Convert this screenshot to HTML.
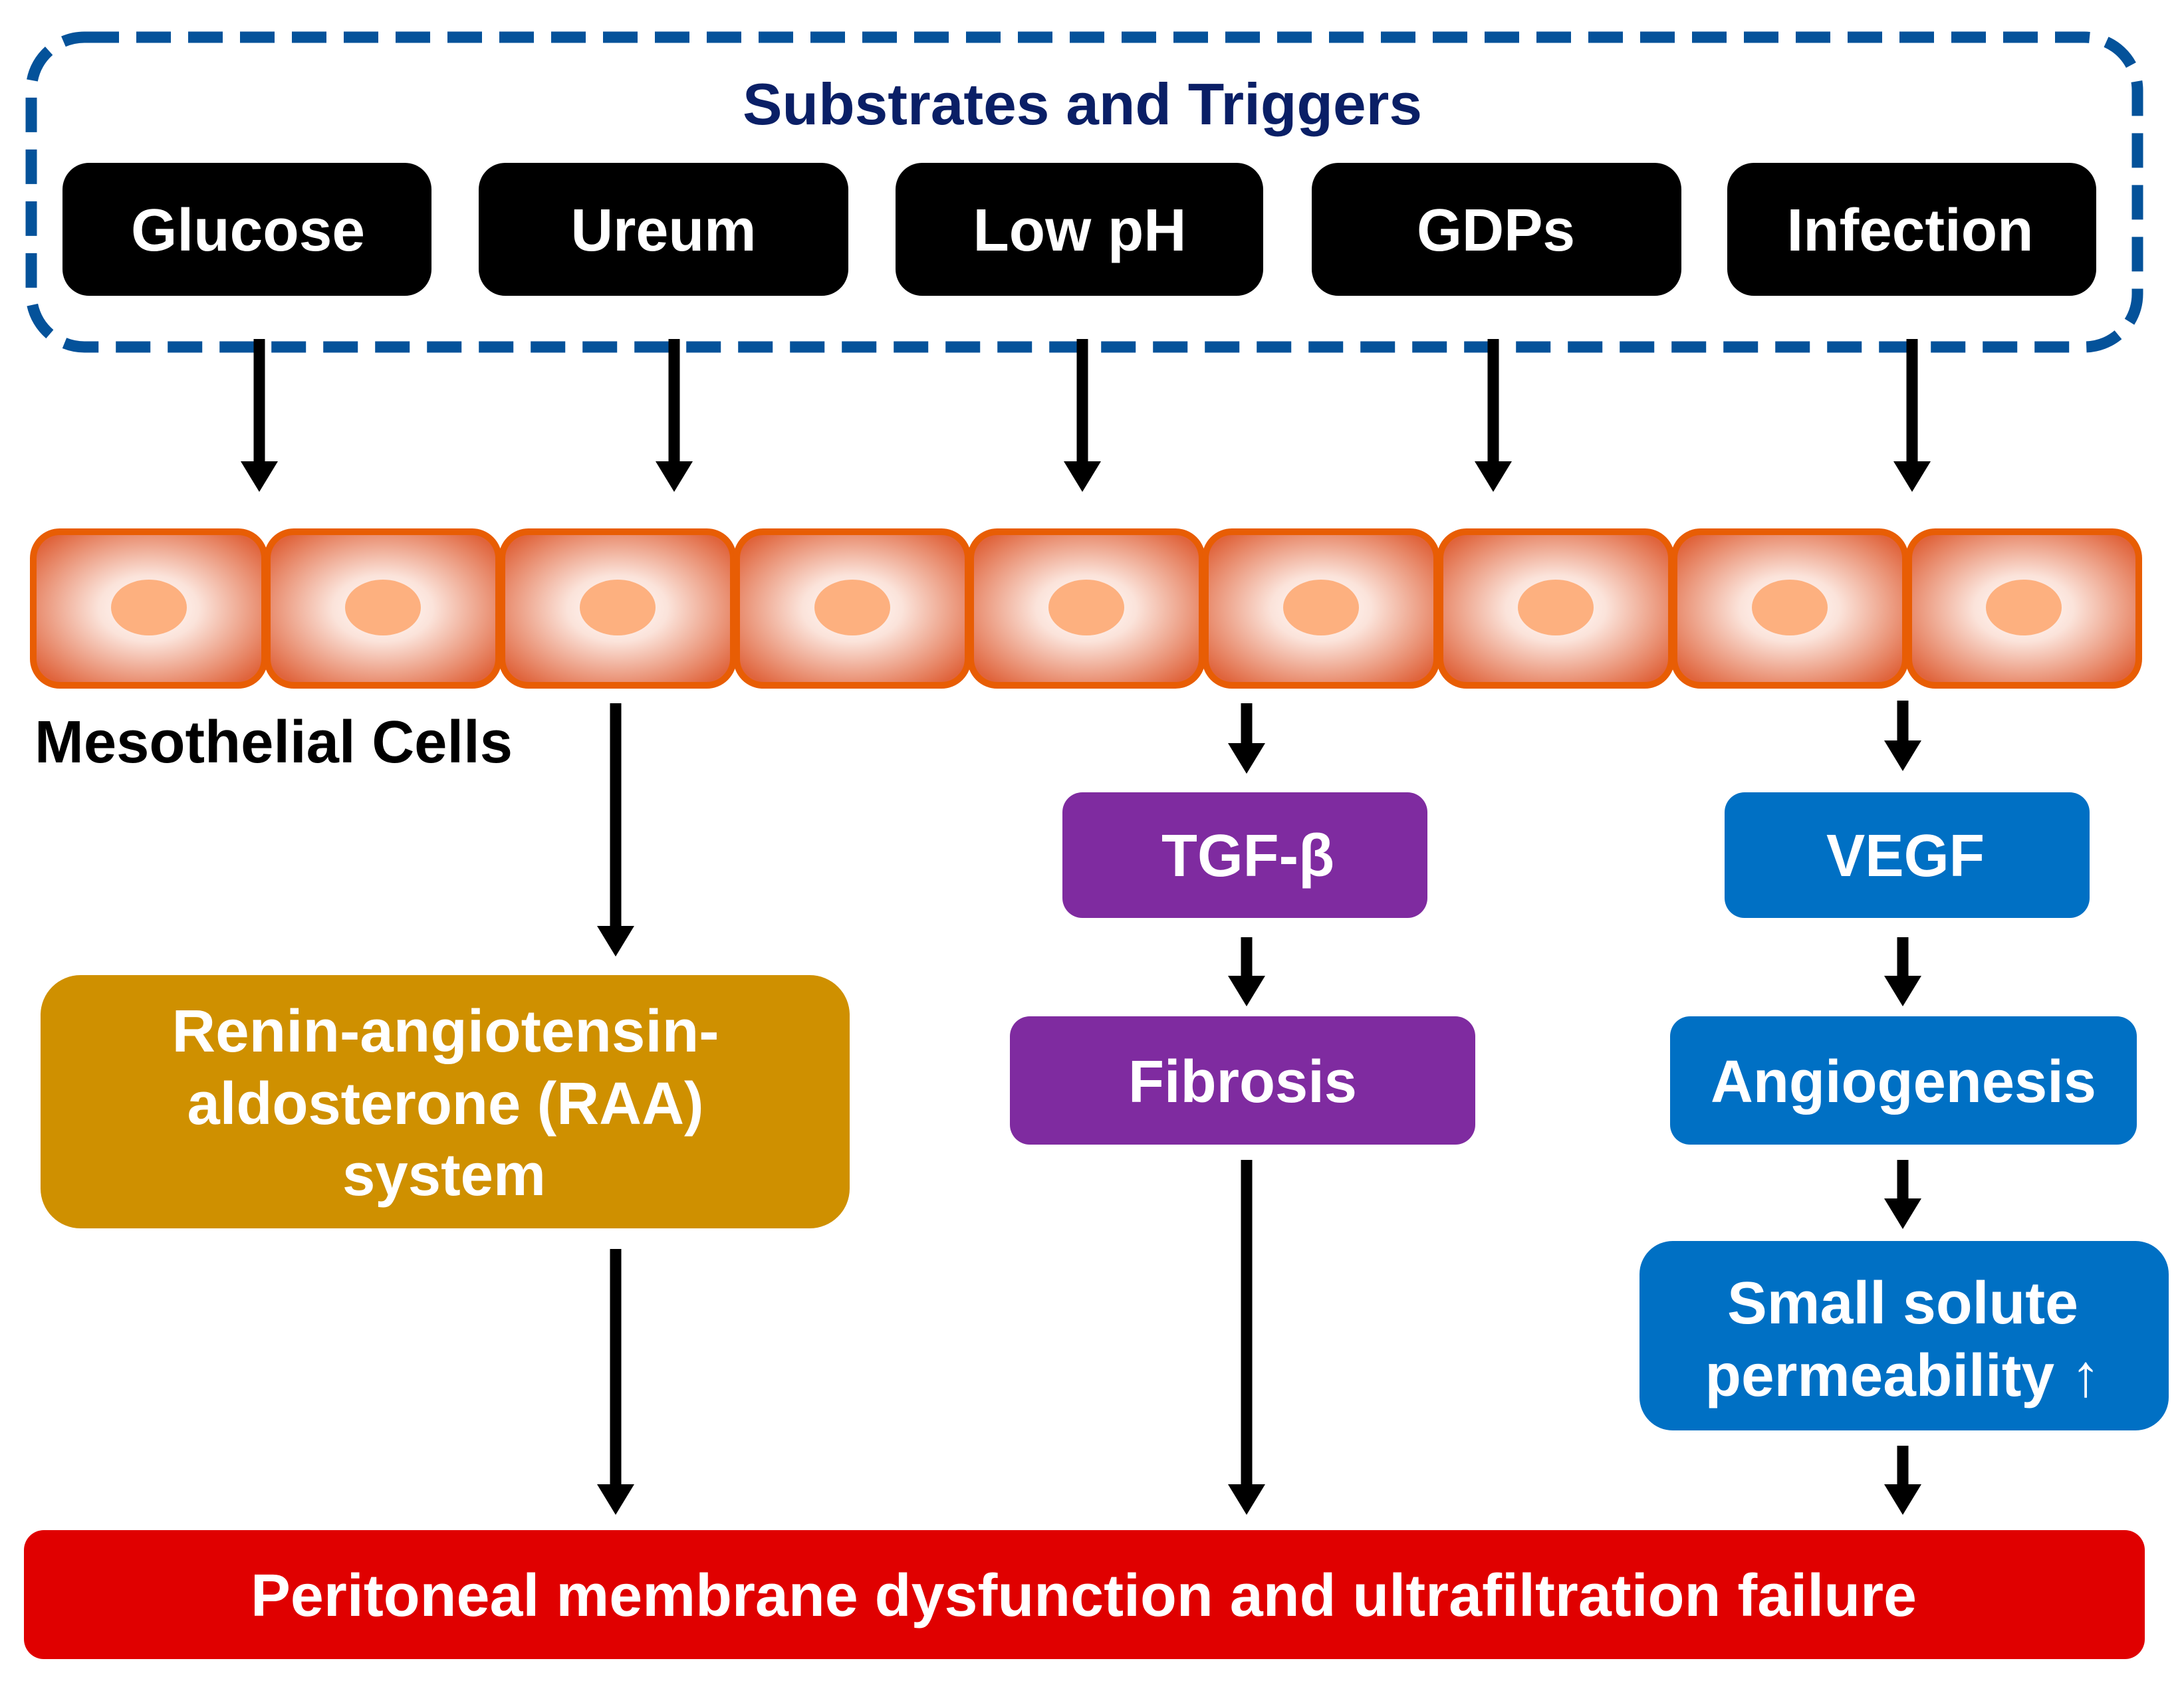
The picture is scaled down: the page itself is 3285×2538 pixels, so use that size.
<!DOCTYPE html>
<html><head><meta charset="utf-8"><style>html,body{margin:0;padding:0;background:#fff}svg{display:block}</style></head>
<body>
<svg width="3285" height="2538" viewBox="0 0 3285 2538" xmlns="http://www.w3.org/2000/svg" font-family="Liberation Sans, Arial, sans-serif" font-weight="bold">
<defs>
<radialGradient id="cg" cx="50%" cy="50%" r="62%">
<stop offset="0" stop-color="#ffffff"/>
<stop offset="0.35" stop-color="#fbe3da"/>
<stop offset="1" stop-color="#e0643c"/>
</radialGradient>
</defs>
<rect width="3285" height="2538" fill="#fff"/>
<rect x="47" y="56" width="3168" height="466" rx="80" fill="none" stroke="#04529a" stroke-width="17" stroke-dasharray="52 26"/>
<text x="1628" y="187" text-anchor="middle" font-size="88" fill="#0a1f66" textLength="1022" lengthAdjust="spacingAndGlyphs">Substrates and Triggers</text>
<g fill="#000">
<rect x="94" y="245" width="555" height="200" rx="40"/>
<rect x="720" y="245" width="556" height="200" rx="40"/>
<rect x="1347" y="245" width="553" height="200" rx="40"/>
<rect x="1973" y="245" width="556" height="200" rx="40"/>
<rect x="2598" y="245" width="555" height="200" rx="40"/>
</g>
<g fill="#fff" font-size="90" text-anchor="middle">
<text x="373" y="377" textLength="352" lengthAdjust="spacingAndGlyphs">Glucose</text>
<text x="998" y="377" textLength="279" lengthAdjust="spacingAndGlyphs">Ureum</text>
<text x="1624" y="377" textLength="321" lengthAdjust="spacingAndGlyphs">Low pH</text>
<text x="2250" y="377" textLength="238" lengthAdjust="spacingAndGlyphs">GDPs</text>
<text x="2873" y="377" textLength="371" lengthAdjust="spacingAndGlyphs">Infection</text>
</g>
<g stroke="#000" stroke-width="17">
<line x1="390" y1="510" x2="390" y2="700"/>
<line x1="1014" y1="510" x2="1014" y2="700"/>
<line x1="1628" y1="510" x2="1628" y2="700"/>
<line x1="2246" y1="510" x2="2246" y2="700"/>
<line x1="2876" y1="510" x2="2876" y2="700"/>
<line x1="926" y1="1058" x2="926" y2="1400"/>
<line x1="1875" y1="1058" x2="1875" y2="1125"/>
<line x1="2862" y1="1054" x2="2862" y2="1120"/>
<line x1="1875" y1="1410" x2="1875" y2="1475"/>
<line x1="2862" y1="1410" x2="2862" y2="1475"/>
<line x1="2862" y1="1745" x2="2862" y2="1810"/>
<line x1="926" y1="1879" x2="926" y2="2240"/>
<line x1="1875" y1="1745" x2="1875" y2="2240"/>
<line x1="2862" y1="2175" x2="2862" y2="2240"/>
</g>
<g fill="#000">
<polygon points="362,694 418,694 390,740"/>
<polygon points="986,694 1042,694 1014,740"/>
<polygon points="1600,694 1656,694 1628,740"/>
<polygon points="2218,694 2274,694 2246,740"/>
<polygon points="2848,694 2904,694 2876,740"/>
<polygon points="898,1393 954,1393 926,1439"/>
<polygon points="1847,1118 1903,1118 1875,1164"/>
<polygon points="2834,1114 2890,1114 2862,1160"/>
<polygon points="1847,1468 1903,1468 1875,1514"/>
<polygon points="2834,1468 2890,1468 2862,1514"/>
<polygon points="2834,1803 2890,1803 2862,1849"/>
<polygon points="898,2233 954,2233 926,2279"/>
<polygon points="1847,2233 1903,2233 1875,2279"/>
<polygon points="2834,2233 2890,2233 2862,2279"/>
</g>
<g stroke="#e85d04" stroke-width="10" fill="url(#cg)">
<rect x="50" y="800" width="348" height="231" rx="40"/>
<rect x="402" y="800" width="348" height="231" rx="40"/>
<rect x="755" y="800" width="348" height="231" rx="40"/>
<rect x="1108" y="800" width="348" height="231" rx="40"/>
<rect x="1460" y="800" width="348" height="231" rx="40"/>
<rect x="1813" y="800" width="348" height="231" rx="40"/>
<rect x="2166" y="800" width="348" height="231" rx="40"/>
<rect x="2518" y="800" width="348" height="231" rx="40"/>
<rect x="2871" y="800" width="346" height="231" rx="40"/>
</g>
<g fill="#fdb07f">
<ellipse cx="224" cy="914" rx="57" ry="42"/>
<ellipse cx="576" cy="914" rx="57" ry="42"/>
<ellipse cx="929" cy="914" rx="57" ry="42"/>
<ellipse cx="1282" cy="914" rx="57" ry="42"/>
<ellipse cx="1634" cy="914" rx="57" ry="42"/>
<ellipse cx="1987" cy="914" rx="57" ry="42"/>
<ellipse cx="2340" cy="914" rx="57" ry="42"/>
<ellipse cx="2692" cy="914" rx="57" ry="42"/>
<ellipse cx="3044" cy="914" rx="57" ry="42"/>
</g>
<text x="52" y="1147" font-size="90" fill="#000" textLength="719" lengthAdjust="spacingAndGlyphs">Mesothelial Cells</text>
<rect x="1598" y="1192" width="549" height="189" rx="30" fill="#7f2ba0"/>
<rect x="1519" y="1529" width="700" height="193" rx="30" fill="#7f2ba0"/>
<rect x="2594" y="1192" width="549" height="189" rx="30" fill="#0070c4"/>
<rect x="2512" y="1529" width="702" height="193" rx="30" fill="#0070c4"/>
<rect x="2466" y="1867" width="796" height="285" rx="50" fill="#0070c4"/>
<rect x="61" y="1467" width="1217" height="381" rx="60" fill="#cf9000"/>
<rect x="36" y="2302" width="3190" height="194" rx="30" fill="#e00000"/>
<g fill="#fff" font-size="90" text-anchor="middle">
<text x="1877" y="1318" textLength="260" lengthAdjust="spacingAndGlyphs">TGF-β</text>
<text x="1869" y="1658" textLength="344" lengthAdjust="spacingAndGlyphs">Fibrosis</text>
<text x="2866" y="1318" textLength="238" lengthAdjust="spacingAndGlyphs">VEGF</text>
<text x="2863" y="1658" textLength="580" lengthAdjust="spacingAndGlyphs">Angiogenesis</text>
<text x="2862" y="1991" textLength="528" lengthAdjust="spacingAndGlyphs">Small solute</text>
<text x="2862" y="2100" textLength="595" lengthAdjust="spacingAndGlyphs">permeability ↑</text>
<text x="670" y="1582" textLength="823" lengthAdjust="spacingAndGlyphs">Renin-angiotensin-</text>
<text x="670" y="1691" textLength="777" lengthAdjust="spacingAndGlyphs">aldosterone (RAA)</text>
<text x="668" y="1798" textLength="306" lengthAdjust="spacingAndGlyphs">system</text>
<text x="1630" y="2431" textLength="2506" lengthAdjust="spacingAndGlyphs">Peritoneal membrane dysfunction and ultrafiltration failure</text>
</g>
</svg>
</body></html>
